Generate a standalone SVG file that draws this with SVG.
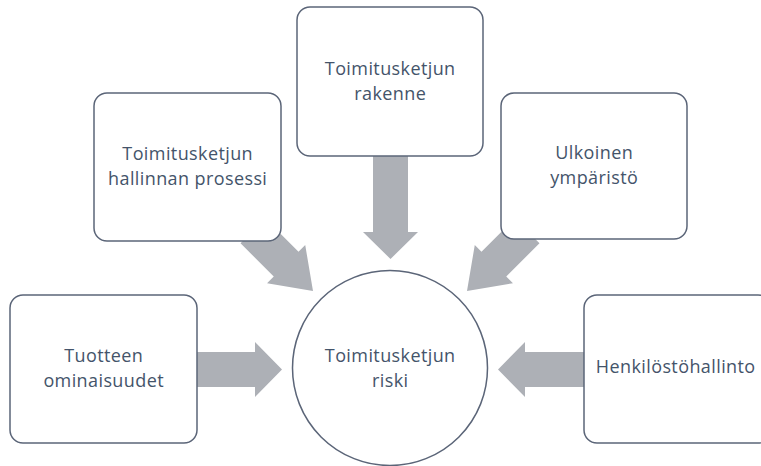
<svg xmlns="http://www.w3.org/2000/svg" width="761" height="466" viewBox="0 0 761 466">
<style>
.box{fill:#ffffff;stroke:#5b6578;stroke-width:1.5}
.arr{fill:#adb0b6;stroke:none}
.t{font-family:"Open Sans","Liberation Sans",sans-serif;font-size:18px;letter-spacing:0.4px;fill:#44546a;text-anchor:middle}
</style>
<rect width="761" height="466" fill="#ffffff"/>
<g id="connectors">
<polygon class="arr" points="190,352 255,352 255,342 282,369.5 255,397 255,387 190,387"/>
<polygon class="arr" points="590,352 525,352 525,342 498,369.5 525,397 525,387 590,387"/>
<polygon class="arr" points="373,150 373,232 363,232 390.5,259 418,232 408,232 408,150"/>
<polygon class="arr" transform="rotate(45 313 291)" points="228,273.5 275,273.5 275,264 313,291 275,318 275,308.5 228,308.5"/>
<polygon class="arr" transform="rotate(135 467 291)" points="382,273.5 429,273.5 429,264 467,291 429,318 429,308.5 382,308.5"/>
</g>
<g id="node-process">
<rect class="box" x="94" y="93" width="187" height="148" rx="13"/>
<text class="t" x="187.7" y="160">Toimitusketjun</text>
<text class="t" x="187.7" y="185">hallinnan prosessi</text>
</g>
<g id="node-structure">
<rect class="box" x="297" y="7" width="186" height="149" rx="13"/>
<text class="t" x="390.2" y="75">Toimitusketjun</text>
<text class="t" x="390.2" y="100">rakenne</text>
</g>
<g id="node-environment">
<rect class="box" x="501" y="93" width="186" height="146" rx="13"/>
<text class="t" x="594.2" y="159">Ulkoinen</text>
<text class="t" x="594.2" y="184">ympäristö</text>
</g>
<g id="node-product">
<rect class="box" x="10" y="295" width="187" height="148" rx="13"/>
<text class="t" x="103.7" y="362">Tuotteen</text>
<text class="t" x="103.7" y="387">ominaisuudet</text>
</g>
<g id="node-hr">
<rect class="box" x="584" y="295" width="187" height="148" rx="13"/>
<text class="t" x="675.7" y="373">Henkilöstöhallinto</text>
</g>
<g id="node-risk">
<circle class="box" cx="390" cy="368" r="97.5"/>
<text class="t" x="390.2" y="362">Toimitusketjun</text>
<text class="t" x="390.2" y="387">riski</text>
</g>
</svg>
